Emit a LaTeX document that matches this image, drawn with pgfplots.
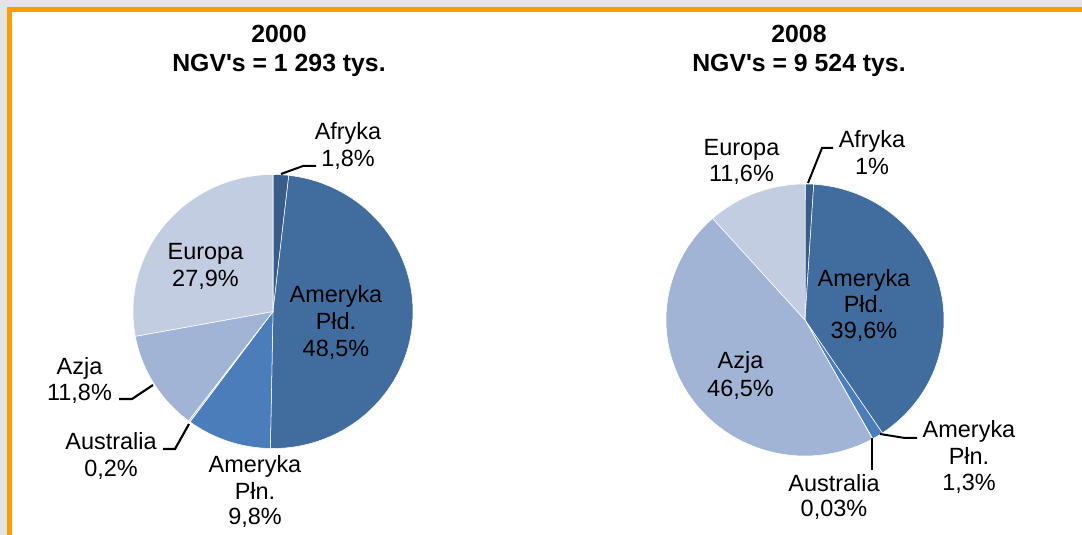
\documentclass[border=0pt]{standalone}
\usepackage{pgfplots}
\pgfplotsset{compat=1.18}
\usepackage{fontspec}
\setmainfont{Liberation Sans}
\newfontfamily\plainfont{Liberation Sans}
\definecolor{bggray}{HTML}{E4E4E4}
\definecolor{frameor}{HTML}{FF9C00}
\definecolor{cAf}{HTML}{385D8A}
\definecolor{cPd}{HTML}{416C9E}
\definecolor{cPn}{HTML}{4A7DBA}
\definecolor{cAu}{HTML}{B7C4DE}
\definecolor{cAz}{HTML}{A2B4D5}
\definecolor{cEu}{HTML}{C2CDE2}
\newcommand{\lfont}{\fontsize{17.6pt}{20.25pt}\selectfont}
\newcommand{\tfont}{\plainfont\fontsize{18.6pt}{22pt}\selectfont\bfseries}
\gdef\cum{0}
% #1 cx, #2 cy, #3 rx, #4 ry, #5 value (percent), #6 colour
\newcommand{\slice}[6]{%
  \pgfmathsetmacro{\sA}{\cum}%
  \pgfmathsetmacro{\sB}{\cum+#5}%
  \edef\temp{\noexpand\addplot[fill=#6, draw=white, line width=0.4pt, line join=round,
    domain=\sA:\sB, samples=90, variable=\noexpand\t]
    ({#1+#3*cos(90-3.6*\noexpand\t)},{#2+#4*sin(90-3.6*\noexpand\t)}) -- (axis cs:#1,#2) -- cycle;}%
  \temp
  \xdef\cum{\sB}%
}
\newcommand{\lbl}[3]{\node[anchor=base, inner sep=0pt, font=\lfont] at (axis cs:#1,#2) {#3};}
\newcommand{\ttl}[3]{\node[anchor=base, inner sep=0pt, font=\tfont] at (axis cs:#1,#2) {#3};}
\begin{document}
\begin{tikzpicture}
\begin{axis}[width=811.5pt, height=401.25pt, scale only axis,
  xmin=0, xmax=1082, ymin=0, ymax=535, hide axis, clip=false]
% background and frame
\fill[bggray] (axis cs:0,0) rectangle (axis cs:1082,535);
\fill[frameor] (axis cs:7,0) rectangle (axis cs:1082,528);
\fill[white] (axis cs:12,0) rectangle (axis cs:1082,523);
% ---- 2000 ----
\gdef\cum{0}
\slice{273}{223.5}{140}{137}{1.8}{cAf}   % Afryka
\slice{273}{223.5}{140}{137}{48.5}{cPd}  % Ameryka Pld.
\slice{273}{223.5}{140}{137}{9.8}{cPn}   % Ameryka Pln.
\slice{273}{223.5}{140}{137}{0.2}{cAu}   % Australia
\slice{273}{223.5}{140}{137}{11.8}{cAz}  % Azja
\slice{273}{223.5}{140}{137}{27.9}{cEu}  % Europa
% ---- 2008 ----
\gdef\cum{0}
\slice{805}{215}{139}{136}{1}{cAf}      % Afryka
\slice{805}{215}{139}{136}{39.6}{cPd}   % Ameryka Pld.
\slice{805}{215}{139}{136}{1.3}{cPn}    % Ameryka Pln.
\slice{805}{215}{139}{136}{0.03}{cAu}   % Australia
\slice{805}{215}{139}{136}{46.5}{cAz}   % Azja
\slice{805}{215}{139}{136}{11.6}{cEu}   % Europa
% titles
\ttl{279}{492}{2000}
\ttl{279}{463}{NGV's = 1 293 tys.}
\ttl{799}{492}{2008}
\ttl{799}{463}{NGV's = 9 524 tys.}
% leader lines
\draw[line width=1.5pt] (axis cs:281,361) -- (axis cs:303,369) -- (axis cs:316,369);
\draw[line width=1.6pt] (axis cs:119,136) -- (axis cs:132,136) -- (axis cs:153,150);
\draw[line width=1.6pt] (axis cs:163,86) -- (axis cs:175,86) -- (axis cs:189,111);
\draw[line width=1.5pt] (axis cs:808,352) -- (axis cs:822,387) -- (axis cs:833,387);
\draw[line width=1.5pt] (axis cs:880,101) -- (axis cs:905,97) -- (axis cs:917,97);
\draw[line width=1.5pt] (axis cs:872,97) -- (axis cs:872,65);
% labels 2000
\lbl{348}{395}{Afryka}\lbl{348}{368}{1,8\%}
\lbl{205.5}{275}{Europa}\lbl{205.5}{248}{27,9\%}
\lbl{336}{232}{Ameryka}\lbl{336}{205}{Płd.}\lbl{336}{178}{48,5\%}
\lbl{79.5}{160}{Azja}\lbl{79.5}{134}{11,8\%}
\lbl{111}{85}{Australia}\lbl{111}{58}{0,2\%}
\lbl{255}{62}{Ameryka}\lbl{255}{35}{Płn.}\lbl{255}{10}{9,8\%}
% labels 2008
\lbl{741.5}{379}{Europa}\lbl{741.5}{353}{11,6\%}
\lbl{872}{387}{Afryka}\lbl{872}{360}{1\%}
\lbl{864}{248}{Ameryka}\lbl{864}{222}{Płd.}\lbl{864}{196}{39,6\%}
\lbl{740.5}{166}{Azja}\lbl{740.5}{138}{46,5\%}
\lbl{969}{97}{Ameryka}\lbl{969}{70}{Płn.}\lbl{969}{44}{1,3\%}
\lbl{834}{43}{Australia}\lbl{834}{18}{0,03\%}
\end{axis}
\end{tikzpicture}
\end{document}
